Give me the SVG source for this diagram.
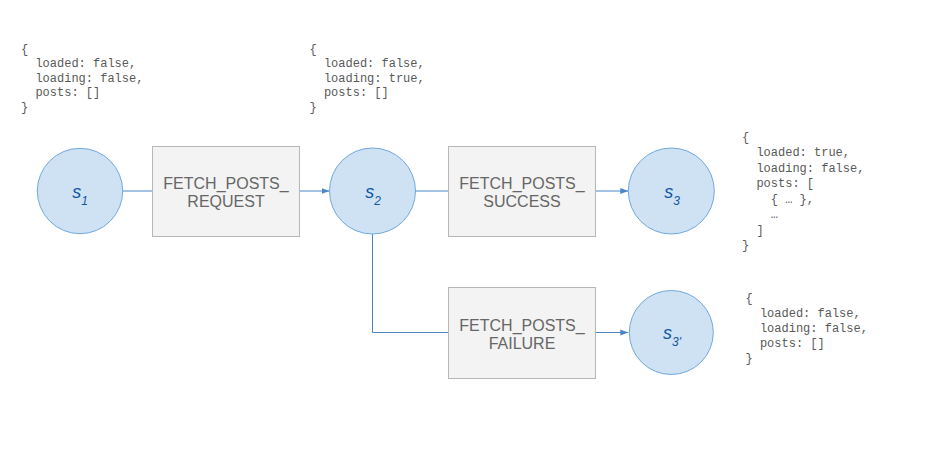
<svg xmlns="http://www.w3.org/2000/svg" width="927" height="449" viewBox="0 0 927 449">
<style>
.state{fill:#cfe2f3;stroke:#6fa8dc;stroke-width:1}
.action{fill:#f3f3f3;stroke:#b7b7b7;stroke-width:1}
.atext{font-family:"Liberation Sans",Arial,sans-serif;font-size:16px;fill:#666666;text-anchor:middle}
.slabel{font-family:"Liberation Sans",Arial,sans-serif;font-size:18px;font-style:italic;fill:#1155a0;text-anchor:middle}
.sub{font-size:12px}
.code{font-family:"Liberation Mono","Courier New",monospace;font-size:12px;fill:#595959;white-space:pre}
.conn{fill:none;stroke:#4a86c8;stroke-width:1}
</style>
<defs>
<marker id="arr" markerUnits="userSpaceOnUse" markerWidth="9" markerHeight="7" refX="8" refY="3.5" orient="auto">
<path d="M0,0.5 L8,3.5 L0,6.5 z" fill="#4a86c8"/>
</marker>
</defs>
<rect width="927" height="449" fill="#ffffff"/>
<g id="connectors">
<path class="conn" d="M122.7,191 H152.5"/>
<path class="conn" d="M299.5,191 H329.5" marker-end="url(#arr)"/>
<path class="conn" d="M415.5,191 H448.5"/>
<path class="conn" d="M595.5,191 H628.3" marker-end="url(#arr)"/>
<path class="conn" d="M372.5,234 V332.5 H448.5"/>
<path class="conn" d="M595.5,332.5 H628.3" marker-end="url(#arr)"/>
</g>
<g id="s1">
<circle class="state" cx="80" cy="191" r="42.7"/>
<text class="slabel" x="80" y="197.5">s<tspan class="sub" dy="7">1</tspan></text>
</g>
<g id="fetch_posts_request">
<rect class="action" x="152.5" y="146.5" width="147" height="90"/>
<text class="atext" x="226" y="189">FETCH_POSTS_</text>
<text class="atext" x="226" y="207">REQUEST</text>
</g>
<g id="s2">
<circle class="state" cx="372.5" cy="191" r="43"/>
<text class="slabel" x="373" y="197.5">s<tspan class="sub" dy="7">2</tspan></text>
</g>
<g id="fetch_posts_success">
<rect class="action" x="448.5" y="146.5" width="147" height="90"/>
<text class="atext" x="522" y="189">FETCH_POSTS_</text>
<text class="atext" x="522" y="207">SUCCESS</text>
</g>
<g id="s3">
<circle class="state" cx="671.3" cy="191" r="43"/>
<text class="slabel" x="672" y="197.5">s<tspan class="sub" dy="7">3</tspan></text>
</g>
<g id="fetch_posts_failure">
<rect class="action" x="448.5" y="287.5" width="147" height="91"/>
<text class="atext" x="522" y="330.5">FETCH_POSTS_</text>
<text class="atext" x="522" y="348.5">FAILURE</text>
</g>
<g id="s3prime">
<circle class="state" cx="671.3" cy="332.5" r="42"/>
<text class="slabel" x="672" y="338.5">s<tspan class="sub" dy="7.5">3'</tspan></text>
</g>
<g id="state_s1">
<text class="code" x="21" y="52.5">{</text>
<text class="code" x="35.4" y="67">loaded: false,</text>
<text class="code" x="35.4" y="81.5">loading: false,</text>
<text class="code" x="35.4" y="96">posts: []</text>
<text class="code" x="21" y="110.5">}</text>
</g>
<g id="state_s2">
<text class="code" x="309.5" y="52.5">{</text>
<text class="code" x="323.9" y="67">loaded: false,</text>
<text class="code" x="323.9" y="81.5">loading: true,</text>
<text class="code" x="323.9" y="96">posts: []</text>
<text class="code" x="309.5" y="110.5">}</text>
</g>
<g id="state_s3">
<text class="code" x="742" y="140.5">{</text>
<text class="code" x="756.4" y="156">loaded: true,</text>
<text class="code" x="756.4" y="171.5">loading: false,</text>
<text class="code" x="756.4" y="187">posts: [</text>
<text class="code" x="770.8" y="202.5">{ … },</text>
<text class="code" x="770.8" y="218">…</text>
<text class="code" x="756.4" y="233.5">]</text>
<text class="code" x="742" y="249">}</text>
</g>
<g id="state_s3prime">
<text class="code" x="745.5" y="302">{</text>
<text class="code" x="759.9" y="317">loaded: false,</text>
<text class="code" x="759.9" y="332">loading: false,</text>
<text class="code" x="759.9" y="347">posts: []</text>
<text class="code" x="745.5" y="362">}</text>
</g>
</svg>
